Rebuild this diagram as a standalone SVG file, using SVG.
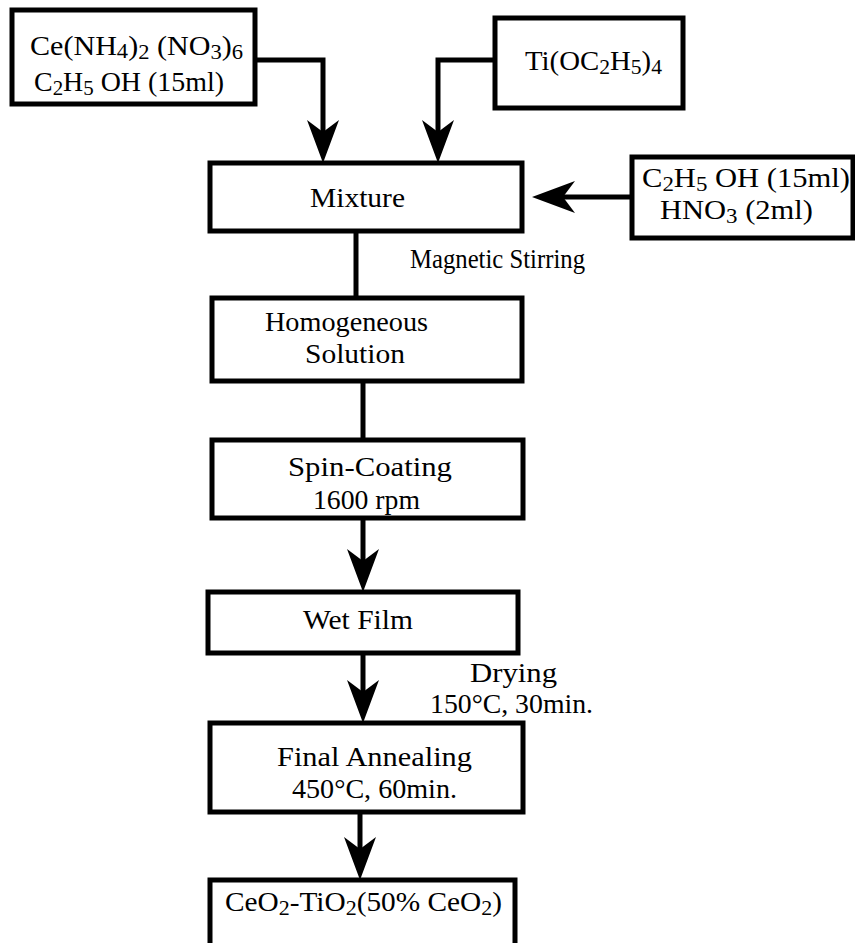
<svg xmlns="http://www.w3.org/2000/svg" width="855" height="943" viewBox="0 0 855 943">
<style>
.box{fill:#fff;stroke:#000;stroke-width:5}
.ln{fill:none;stroke:#000;stroke-width:5}
.arr{marker-end:url(#ah)}
text{font-family:"Liberation Serif","Times New Roman",serif;font-size:28px;fill:#000}
.sm{font-size:27px}
.sub{font-size:21px}
</style>
<defs>
<marker id="ah" viewBox="0 -17 44 34" refX="23" refY="0" markerWidth="44" markerHeight="34" markerUnits="userSpaceOnUse" orient="auto">
<path d="M43,0 L0,-16 L12,0 L0,16 Z" fill="#000"/>
</marker>
</defs>
<rect width="855" height="943" fill="#fff"/>
<g id="connectors">
<path class="ln arr" d="M255,60 H323 V143"/>
<path class="ln arr" d="M495,60 H438 V143"/>
<path class="ln arr" d="M632,197 H552"/>
<path class="ln" d="M356,232 V298"/>
<path class="ln" d="M363,381 V440"/>
<path class="ln arr" d="M363,518 V572"/>
<path class="ln arr" d="M363,653 V703"/>
<path class="ln arr" d="M360,812 V860"/>
<text class="sm" x="410" y="268" textLength="175" lengthAdjust="spacingAndGlyphs">Magnetic Stirring</text>
<text class="sm" x="470" y="682" textLength="87" lengthAdjust="spacingAndGlyphs">Drying</text>
<text class="sm" x="430" y="713" textLength="163" lengthAdjust="spacingAndGlyphs">150°C, 30min.</text>
</g>
<g id="n-ce">
<rect class="box" x="12" y="10" width="243" height="94"/>
<text x="30" y="55" textLength="213" lengthAdjust="spacingAndGlyphs">Ce(NH<tspan class="sub" dy="3">4</tspan><tspan dy="-3">)</tspan><tspan class="sub" dy="4">2</tspan><tspan dy="-4"> (NO</tspan><tspan class="sub" dy="4">3</tspan><tspan dy="-4">)</tspan><tspan class="sub" dy="4">6</tspan></text>
<text x="34" y="91" textLength="190" lengthAdjust="spacingAndGlyphs">C<tspan class="sub" dy="4">2</tspan><tspan dy="-4">H</tspan><tspan class="sub" dy="4">5</tspan><tspan dy="-4"> OH (15ml)</tspan></text>
</g>
<g id="n-ti">
<rect class="box" x="495" y="18" width="188" height="90"/>
<text x="525" y="70" textLength="137" lengthAdjust="spacingAndGlyphs">Ti(OC<tspan class="sub" dy="4">2</tspan><tspan dy="-4">H</tspan><tspan class="sub" dy="4">5</tspan><tspan dy="-4">)</tspan><tspan class="sub" dy="4">4</tspan></text>
</g>
<g id="n-mixture">
<rect class="box" x="210" y="163" width="312" height="68"/>
<text x="310" y="207" textLength="95" lengthAdjust="spacingAndGlyphs">Mixture</text>
</g>
<g id="n-solvent">
<rect class="box" x="632" y="157" width="221" height="81"/>
<text x="642" y="187" textLength="208" lengthAdjust="spacingAndGlyphs">C<tspan class="sub" dy="4">2</tspan><tspan dy="-4">H</tspan><tspan class="sub" dy="4">5</tspan><tspan dy="-4"> OH (15ml)</tspan></text>
<text x="660" y="219" textLength="153" lengthAdjust="spacingAndGlyphs">HNO<tspan class="sub" dy="4">3</tspan><tspan dy="-4">  (2ml)</tspan></text>
</g>
<g id="n-homog">
<rect class="box" x="212" y="298" width="310" height="83"/>
<text x="265" y="331" textLength="163" lengthAdjust="spacingAndGlyphs">Homogeneous</text>
<text x="305" y="363" textLength="100" lengthAdjust="spacingAndGlyphs">Solution</text>
</g>
<g id="n-spin">
<rect class="box" x="212" y="440" width="311" height="78"/>
<text x="288" y="476" textLength="164" lengthAdjust="spacingAndGlyphs">Spin-Coating</text>
<text x="313" y="509" textLength="107" lengthAdjust="spacingAndGlyphs">1600 rpm</text>
</g>
<g id="n-wet">
<rect class="box" x="208" y="592" width="310" height="61"/>
<text x="303" y="629" textLength="110" lengthAdjust="spacingAndGlyphs">Wet Film</text>
</g>
<g id="n-final">
<rect class="box" x="210" y="723" width="313" height="89"/>
<text x="277" y="766" textLength="195" lengthAdjust="spacingAndGlyphs">Final Annealing</text>
<text x="292" y="798" textLength="165" lengthAdjust="spacingAndGlyphs">450°C, 60min.</text>
</g>
<g id="n-product">
<rect class="box" x="210" y="880" width="305" height="80"/>
<text x="225" y="911" textLength="277" lengthAdjust="spacingAndGlyphs">CeO<tspan class="sub" dy="4">2</tspan><tspan dy="-4">-TiO</tspan><tspan class="sub" dy="4">2</tspan><tspan dy="-4">(50% CeO</tspan><tspan class="sub" dy="4">2</tspan><tspan dy="-4">)</tspan></text>
</g>
</svg>
